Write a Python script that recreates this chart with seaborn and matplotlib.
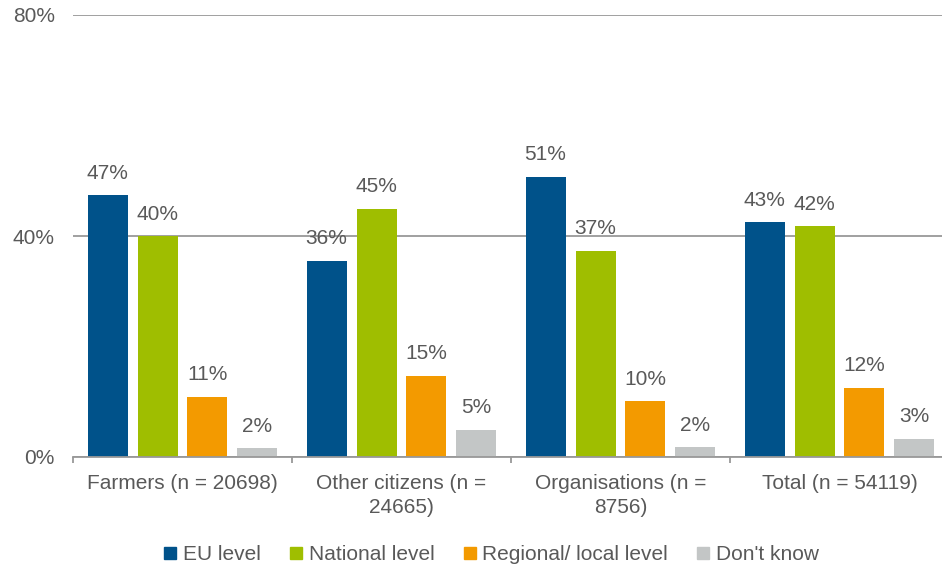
import matplotlib

matplotlib.use("Agg")
import matplotlib.pyplot as plt
import pandas as pd
import seaborn as sns
from matplotlib.lines import Line2D

# categories and series (bar heights, labels as printed)
groups = [
    "Farmers (n = 20698)",
    "Other citizens (n =\n24665)",
    "Organisations (n =\n8756)",
    "Total (n = 54119)",
]
levels = ["EU level", "National level", "Regional/ local level", "Don't know"]

eu_level = [47.4, 35.5, 50.7, 42.5]
national_level = [40.0, 44.9, 37.3, 41.8]
regional_level = [10.9, 14.7, 10.1, 12.5]
dont_know = [1.6, 4.9, 1.8, 3.3]

eu_label = [47, 36, 51, 43]
national_label = [40, 45, 37, 42]
regional_label = [11, 15, 10, 12]
dont_know_label = [2, 5, 2, 3]

colors = ["#00528A", "#9FBE00", "#F39A00", "#C3C6C6"]
text_color = "#595959"
grid_color = "#989898"

series = [eu_level, national_level, regional_level, dont_know]
labels = [eu_label, national_label, regional_label, dont_know_label]

df = pd.DataFrame(
    [
        {"group": g, "level": lvl, "value": v}
        for lvl, vals in zip(levels, series)
        for g, v in zip(groups, vals)
    ]
)

sns.set_style("white")
plt.rcParams["font.family"] = ["Liberation Sans", "DejaVu Sans"]

fig = plt.figure(figsize=(9.42, 5.69), dpi=100)
# plot area runs slightly past the right edge of the image, as in the original
ax = fig.add_axes([73 / 942, 1 - 457 / 569, 876 / 942, 442 / 569])

sns.barplot(
    data=df,
    x="group",
    y="value",
    hue="level",
    order=groups,
    hue_order=levels,
    palette=colors,
    width=0.913,
    gap=0.2,
    saturation=1,
    linewidth=0,
    legend=False,
    ax=ax,
)

for cont, labs in zip(ax.containers, labels):
    ax.bar_label(
        cont,
        labels=[f"{v}%" for v in labs],
        padding=9,
        fontsize=15,
        color=text_color,
    )

ax.set_xlim(-0.5, len(groups) - 0.5)
ax.set_ylim(0, 80)
ax.set_yticks([0, 40, 80])
ax.set_yticklabels(["0%", "40%", "80%"])
ax.yaxis.grid(True, color=grid_color, linewidth=1.3)
ax.set_axisbelow(True)

# group separators as major ticks, category names on minor ticks
ax.set_xticks([i - 0.5 for i in range(len(groups) + 1)])
ax.set_xticklabels([])
ax.set_xticks(range(len(groups)), minor=True)
ax.set_xticklabels(groups, minor=True)
ax.tick_params(axis="x", which="major", bottom=True, length=4.5, width=1.3,
               color=grid_color, direction="out")
ax.tick_params(axis="x", which="minor", bottom=True, length=0, pad=12,
               labelsize=15, labelcolor=text_color)
ax.tick_params(axis="y", length=0, pad=13, labelsize=15, labelcolor=text_color)
for t in ax.get_xticklabels(minor=True):
    t.set_horizontalalignment("center")
    t.set_linespacing(1.35)

ax.set_xlabel("")
ax.set_ylabel("")
for side in ["top", "right", "left"]:
    ax.spines[side].set_visible(False)
ax.spines["bottom"].set_color(grid_color)
ax.spines["bottom"].set_linewidth(1.3)

handles = [
    Line2D([0], [0], marker="s", linestyle="none", markersize=9, color=c, label=lvl)
    for c, lvl in zip(colors, levels)
]
fig.legend(
    handles=handles,
    loc="center",
    bbox_to_anchor=(491 / 942, 1 - 555 / 569),
    ncol=4,
    frameon=False,
    fontsize=15,
    labelcolor=text_color,
    handlelength=0.7,
    handletextpad=0.25,
    columnspacing=1.35,
)

fig.savefig("out.png", dpi=100)
